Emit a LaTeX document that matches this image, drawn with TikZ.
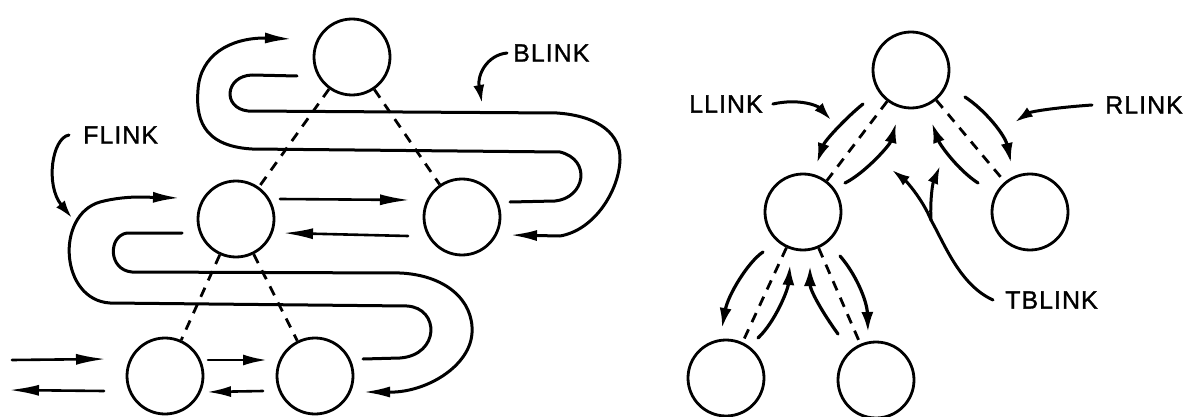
\documentclass[tikz,border=0pt]{standalone}
\usepackage{fontspec}
\setmainfont{Liberation Sans}
\newfontfamily\labfont{Liberation Sans}[LetterSpace=4,FakeBold=1.2]
\usetikzlibrary{arrows.meta}
\begin{document}
\begin{tikzpicture}[x=1pt,y=-1pt,
  tnode/.style={circle, draw, line width=2.8pt, minimum size=76pt, inner sep=0pt},
  thread/.style={line width=3pt, line join=round, line cap=round},
  bigtip/.style={-{Latex[length=27pt,width=11pt]}},
  harrow/.style={line width=2.6pt, line cap=round, -{Latex[length=30pt,width=11pt]}},
  treelink/.style={line width=2.8pt, dash pattern=on 10pt off 8pt},
  rarrow/.style={line width=3.2pt, line cap=round, -{Latex[length=20pt,width=12pt]}},
  ptr/.style={line width=3pt, line cap=round, -{Latex[length=18pt,width=11pt]}},
  lab/.style={font=\labfont\fontsize{25}{25}\selectfont, inner sep=0pt, anchor=west}]
\useasboundingbox (0,0) rectangle (1186,417);
\fill[white] (0,0) rectangle (1186,417);

% ---------- left tree ----------
\node[tnode] (lroot) at (352,57) {};
\node[tnode] (lml) at (236,219) {};
\node[tnode] (lrm) at (462,217) {};
\node[tnode] (lbl) at (165,376) {};
\node[tnode] (lbr) at (315,376) {};

\draw[treelink] (lroot) -- (lml);
\draw[treelink] (lroot) -- (lrm);
\draw[treelink] (lml) -- (lbl);
\draw[treelink] (lml) -- (lbr);

% thread end points
\coordinate (a0) at (297,76);
\coordinate (a1) at (510,235);
\coordinate (b0) at (510,202);
\coordinate (b1) at (292,39);
\coordinate (c0) at (182,233);
\coordinate (c1) at (363,392);
\coordinate (d0) at (363,359);
\coordinate (d1) at (180,198);

% upper band
\draw[thread, bigtip] (a0) -- (252,75) .. controls (225,76) and (222,108) .. (248,111)
  -- (557,113) .. controls (600,116) and (621,135) .. (620,160)
  .. controls (619,190) and (595,230) .. (560,236) -- (a1);
\draw[thread, bigtip] (b0) -- (555,201) .. controls (585,198) and (592,160) .. (560,152)
  -- (252,149) .. controls (200,146) and (196,115) .. (198,90)
  .. controls (200,55) and (230,38) .. (265,38) -- (b1);

% middle band
\draw[thread, bigtip] (c0) -- (127,233) .. controls (108,236) and (108,270) .. (132,272)
  -- (400,273) .. controls (445,275) and (474,300) .. (472,333)
  .. controls (470,365) and (430,390) .. (395,392) -- (c1);
\draw[thread, bigtip] (d0) -- (400,358) .. controls (440,355) and (440,308) .. (407,306)
  -- (110,303) .. controls (60,300) and (55,215) .. (100,202)
  .. controls (115,198) and (130,197) .. (140,197) -- (d1);

% horizontal links
\coordinate (h1s) at (280,199); \coordinate (h1e) at (410,200);
\coordinate (h2s) at (408,236); \coordinate (h2e) at (283,233);
\coordinate (h3s) at (12,360);  \coordinate (h3e) at (106,359);
\coordinate (h4s) at (104,391); \coordinate (h4e) at (9,390);
\coordinate (h5s) at (208,360); \coordinate (h5e) at (267,360);
\coordinate (h6s) at (263,391); \coordinate (h6e) at (207,392);
\draw[harrow] (h1s) -- (h1e);
\draw[harrow] (h2s) -- (h2e);
\draw[harrow] (h3s) -- (h3e);
\draw[harrow] (h4s) -- (h4e);
\draw[harrow, -{Latex[length=24pt,width=11pt]}] (h5s) -- (h5e);
\draw[harrow, -{Latex[length=24pt,width=11pt]}] (h6s) -- (h6e);

% labels left
\node[lab] (blink) at (513,53) {BLINK};
\node[lab] (flink) at (83,135) {FLINK};
\coordinate (bt) at (482,103);
\coordinate (ft) at (72,218);
\draw[ptr] ([xshift=-6pt]blink.west) .. controls (487,55) and (477,75) .. (bt);
\draw[ptr] ([xshift=-14pt]flink.west) .. controls (52,138) and (45,185) .. (ft);

% ---------- right tree ----------
\node[tnode] (rroot) at (911,70) {};
\node[tnode] (rml) at (803,212) {};
\node[tnode] (rrc) at (1030,212) {};
\node[tnode] (rbl) at (726,378) {};
\node[tnode] (rbr) at (876,380) {};

\draw[treelink] (rroot) -- (rml);
\draw[treelink] (rroot) -- (rrc);
\draw[treelink] (rml) -- (rbl);
\draw[treelink] (rml) -- (rbr);

\coordinate (r1s) at (863,104); \coordinate (r1e) at (817,163);
\coordinate (r2s) at (845,183); \coordinate (r2e) at (896,123);
\coordinate (r3s) at (978,183); \coordinate (r3e) at (932,123);
\coordinate (r4s) at (965,97);  \coordinate (r4e) at (1011,163);
\coordinate (r5s) at (763,252); \coordinate (r5e) at (722,328);
\coordinate (r6s) at (758,338); \coordinate (r6e) at (790,265);
\coordinate (r7s) at (838,334); \coordinate (r7e) at (810,266);
\coordinate (r8s) at (840,256); \coordinate (r8e) at (868,332);
\draw[rarrow] (r1s) .. controls (848,116) and (825,140) .. (r1e);
\draw[rarrow] (r2s) .. controls (865,173) and (890,145) .. (r2e);
\draw[rarrow] (r3s) .. controls (958,170) and (940,145) .. (r3e);
\draw[rarrow] (r4s) .. controls (985,110) and (1005,135) .. (r4e);
\draw[rarrow] (r5s) .. controls (748,262) and (728,295) .. (r5e);
\draw[rarrow] (r6s) .. controls (775,322) and (788,290) .. (r6e);
\draw[rarrow] (r7s) .. controls (822,312) and (810,290) .. (r7e);
\draw[rarrow] (r8s) .. controls (855,273) and (867,300) .. (r8e);

% labels right
\node[lab] (llink) at (689,104) {LLINK};
\node[lab] (rlink) at (1105,105) {RLINK};
\node[lab] (tblink) at (1005,300) {TBLINK};
\coordinate (lt) at (831,120);
\coordinate (rt) at (1015,122);
\coordinate (tb1) at (892,170);
\coordinate (tb2) at (940,166);
\coordinate (tbf) at (931,220);
\draw[ptr] ([xshift=10pt]llink.east) .. controls (800,98) and (818,106) .. (lt);
\draw[ptr] ([xshift=-13pt]rlink.west) .. controls (1050,108) and (1030,112) .. (rt);
\draw[line width=3pt, line cap=round] ([xshift=-12pt]tblink.west) .. controls (960,285) and (945,245) .. (tbf);
\draw[ptr] (tbf) .. controls (922,198) and (905,180) .. (tb1);
\draw[ptr] (tbf) .. controls (930,205) and (932,185) .. (tb2);
\end{tikzpicture}
\end{document}
